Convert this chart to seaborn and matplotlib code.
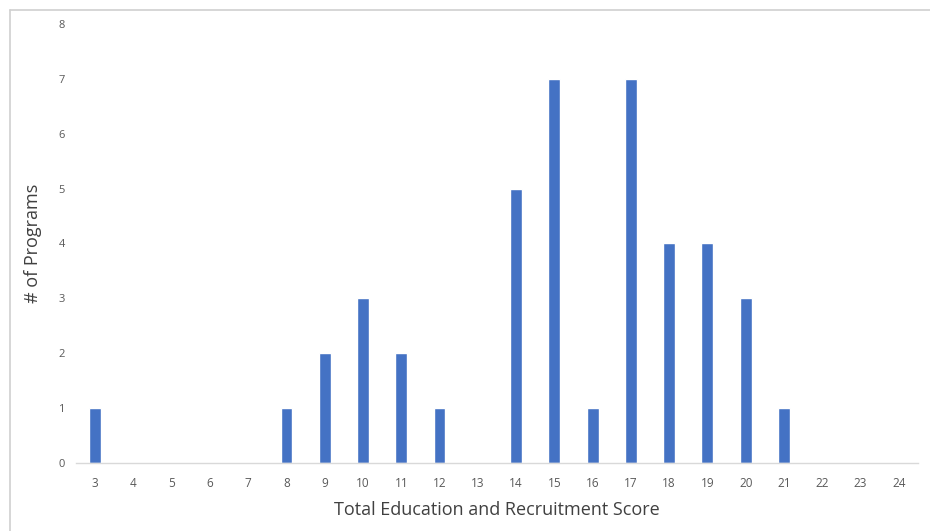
import matplotlib
matplotlib.use("Agg")
import matplotlib.pyplot as plt
import seaborn as sns
import pandas as pd
from matplotlib.lines import Line2D

# values
scores = list(range(3, 25))
programs = [1, 0, 0, 0, 0, 1, 2, 3, 2, 1, 0, 5, 7, 1, 7, 4, 4, 3, 1, 0, 0, 0]
y_ticks = list(range(0, 9))

df = pd.DataFrame({'score': [str(s) for s in scores], 'programs': programs})

sns.set_style('white')
plt.rcParams['font.family'] = ['Open Sans', 'DejaVu Sans']

fig = plt.figure(figsize=(9.3, 5.31), dpi=100)
ax = fig.add_axes([0.0817, 0.128, 0.9053, 0.827])

sns.barplot(data=df, x='score', y='programs', color='#4472C4', saturation=1,
            width=0.31, ax=ax)

ax.set_ylim(0, 8)
ax.set_xlim(-0.5, len(scores) - 0.5)
ax.set_yticks(y_ticks)
ax.tick_params(axis='y', length=0, labelsize=8, colors='#595959', pad=8)
ax.tick_params(axis='x', length=0, labelsize=8.5, colors='#595959', pad=10)
for s in ['top', 'right', 'left']:
    ax.spines[s].set_visible(False)
ax.spines['bottom'].set_color('#D9D9D9')
ax.spines['bottom'].set_linewidth(1)

ax.set_xlabel('Total Education and Recruitment Score', fontsize=13, color='#404040', labelpad=8)
ax.set_ylabel('# of Programs', fontsize=13, color='#404040', labelpad=12)

# light frame around the chart area
fig.add_artist(Line2D([10 / 930, 1.0], [1 - 9.5 / 531, 1 - 9.5 / 531],
                      transform=fig.transFigure, color='#D0D0D0', lw=1.2))
fig.add_artist(Line2D([10 / 930, 10 / 930], [0, 1 - 9.5 / 531],
                      transform=fig.transFigure, color='#D0D0D0', lw=1.2))

fig.savefig('out.png', dpi=100)
